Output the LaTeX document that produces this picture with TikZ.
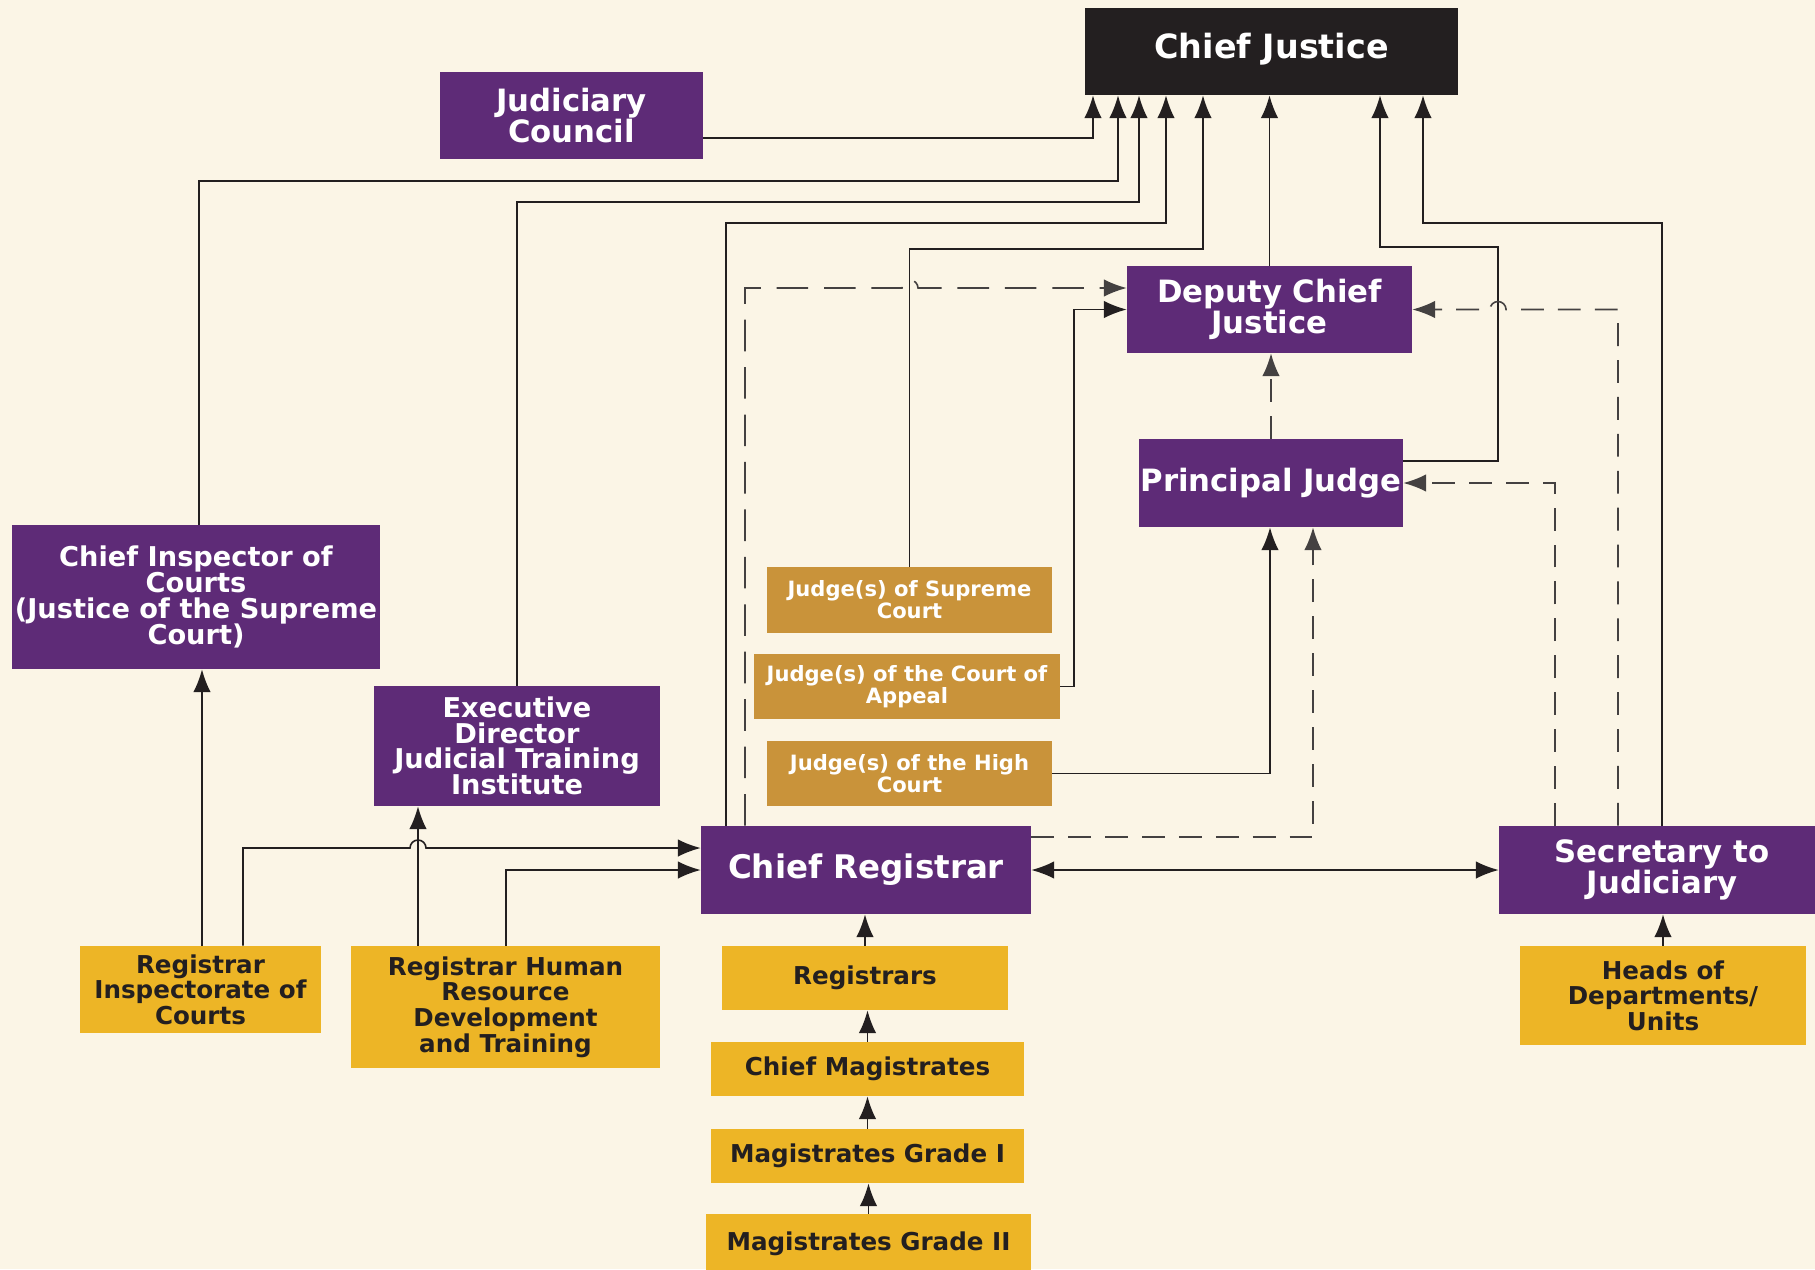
\documentclass[tikz,border=0pt]{standalone}
\usepackage{fontspec}
\setmainfont{DejaVu Sans}
\usetikzlibrary{arrows.meta}
\definecolor{paper}{RGB}{251,245,230}
\definecolor{jpurple}{RGB}{94,43,119}
\definecolor{jgold}{RGB}{237,181,38}
\definecolor{jochre}{RGB}{201,147,58}
\definecolor{ink}{RGB}{35,31,32}
\setlength{\lineskiplimit}{-6pt}
\begin{document}
\begin{tikzpicture}[x=0.02cm, y=-0.02cm, >={Latex[length=13pt,width=10pt]}, every node/.style={inner sep=0pt, align=center}, office/.style={fill=jpurple, text=white, font=\bfseries\fontsize{17.5}{17.7}\selectfont}, staff/.style={fill=jgold, text=ink, font=\bfseries\fontsize{14}{14.6}\selectfont}, bench/.style={fill=jochre, text=white, font=\bfseries\fontsize{12}{12.5}\selectfont}, solidlink/.style={draw=ink, line width=0.9pt, ->}, dashlink/.style={draw=ink!85, line width=0.9pt, ->, dash pattern=on 13pt off 8pt}]
\useasboundingbox (0,0) rectangle (1815,1269);
\fill[paper] (0,0) rectangle (1815,1269);
\node[office, fill=ink, minimum width=7.46cm, minimum height=1.74cm, text depth=6pt, font=\bfseries\fontsize{19}{20}\selectfont] (cj) at (1271.5,51.5) {Chief Justice};
\node[office, minimum width=5.26cm, minimum height=1.74cm] (jc) at (571.5,115.5) {Judiciary\\Council};
\node[office, minimum width=5.70cm, minimum height=1.74cm] (dcj) at (1269.5,309.5) {Deputy Chief\\Justice};
\node[office, minimum width=5.28cm, minimum height=1.76cm] (pj) at (1271,483) {Principal Judge};
\node[office, minimum width=7.36cm, minimum height=2.88cm, font=\bfseries\fontsize{15.5}{14.8}\selectfont] (ci) at (196,597) {Chief Inspector of\\Courts\\(Justice of the Supreme\\Court)};
\node[office, minimum width=5.72cm, minimum height=2.40cm, font=\bfseries\fontsize{15.5}{14.6}\selectfont] (ed) at (517,746) {Executive\\Director\\Judicial Training\\Institute};
\node[bench, minimum width=5.70cm, minimum height=1.32cm] (jsc) at (909.5,600) {Judge(s) of Supreme\\Court};
\node[bench, minimum width=6.12cm, minimum height=1.30cm] (jca) at (907,686.5) {Judge(s) of the Court of\\Appeal};
\node[bench, minimum width=5.70cm, minimum height=1.30cm] (jhc) at (909.5,773.5) {Judge(s) of the High\\Court};
\node[office, minimum width=6.60cm, minimum height=1.76cm, font=\bfseries\fontsize{18.5}{19}\selectfont] (cr) at (866,870) {Chief Registrar};
\node[office, minimum width=6.52cm, minimum height=1.76cm] (sec) at (1662,870) {Secretary to\\Judiciary};
\node[staff, minimum width=4.82cm, minimum height=1.74cm] (ri) at (200.5,989.5) {Registrar\\Inspectorate of\\Courts};
\node[staff, minimum width=6.18cm, minimum height=2.44cm] (rhr) at (505.5,1007) {Registrar Human\\Resource\\Development\\and Training};
\node[staff, minimum width=5.72cm, minimum height=1.28cm] (reg) at (865,978) {Registrars};
\node[staff, minimum width=6.26cm, minimum height=1.08cm] (cm) at (867.5,1069) {Chief Magistrates};
\node[staff, minimum width=6.26cm, minimum height=1.08cm] (mg1) at (867.5,1156) {Magistrates Grade I};
\node[staff, minimum width=6.50cm, minimum height=1.20cm] (mg2) at (868.5,1244) {Magistrates Grade II};
\node[staff, minimum width=5.72cm, minimum height=1.98cm] (hod) at (1663,995.5) {Heads of\\Departments/\\Units};
\draw[solidlink] (jc.east |- 0,138) -| (1093,0 |- cj.south);
\draw[solidlink] (199,0 |- ci.north) |- (1118,181) -- (1118,0 |- cj.south);
\draw[solidlink] (ed.north) |- (1139,202) -- (1139,0 |- cj.south);
\draw[solidlink] (726,0 |- cr.north) |- (1166,223) -- (1166,0 |- cj.south);
\draw[solidlink] (jsc.north) |- (1203,249) -- (1203,0 |- cj.south);
\draw[solidlink] (dcj.north) -- (dcj.north |- cj.south);
\draw[solidlink] (pj.east |- 0,461) -| (1498,247) -| (1380,0 |- cj.south);
\draw[solidlink] (sec.north) |- (1423,223) -- (1423,0 |- cj.south);
\draw[dashlink, dash pattern=on 18pt off 9pt] (745,0 |- cr.north) -- (745,288) -- (902,288) arc[start angle=180, end angle=0, radius=0.16cm] -- (dcj.west |- 0,288);
\draw[solidlink] (jca.east) -| (1074,309.5) -- (dcj.west);
\draw[dashlink] (pj.north) -- (pj.north |- dcj.south);
\draw[solidlink] (jhc.east) -| (1270,0 |- pj.south);
\draw[dashlink] (cr.east |- 0,837) -| (1313,0 |- pj.south);
\draw[dashlink] (1555,0 |- sec.north) |- (pj.east);
\draw[dashlink] (1618,0 |- sec.north) -- (1618,309.5) -- (1506,309.5) arc[start angle=0, end angle=180, radius=0.16cm] -- (dcj.east);
\draw[solidlink, <->] (cr.east) -- (sec.west);
\draw[solidlink] (202,0 |- ri.north) -- (202,0 |- ci.south);
\draw[solidlink] (243,0 |- ri.north) -- (243,848) -- (410,848) arc[start angle=180, end angle=0, radius=0.16cm] -- (cr.west |- 0,848);
\draw[solidlink] (418,0 |- rhr.north) -- (418,0 |- ed.south);
\draw[solidlink] (506,0 |- rhr.north) |- (cr.west);
\draw[solidlink] (reg.north) -- (reg.north |- cr.south);
\draw[solidlink] (cm.north) -- (cm.north |- reg.south);
\draw[solidlink] (mg1.north) -- (mg1.north |- cm.south);
\draw[solidlink] (mg2.north) -- (mg2.north |- mg1.south);
\draw[solidlink] (hod.north) -- (hod.north |- sec.south);
\end{tikzpicture}
\end{document}
